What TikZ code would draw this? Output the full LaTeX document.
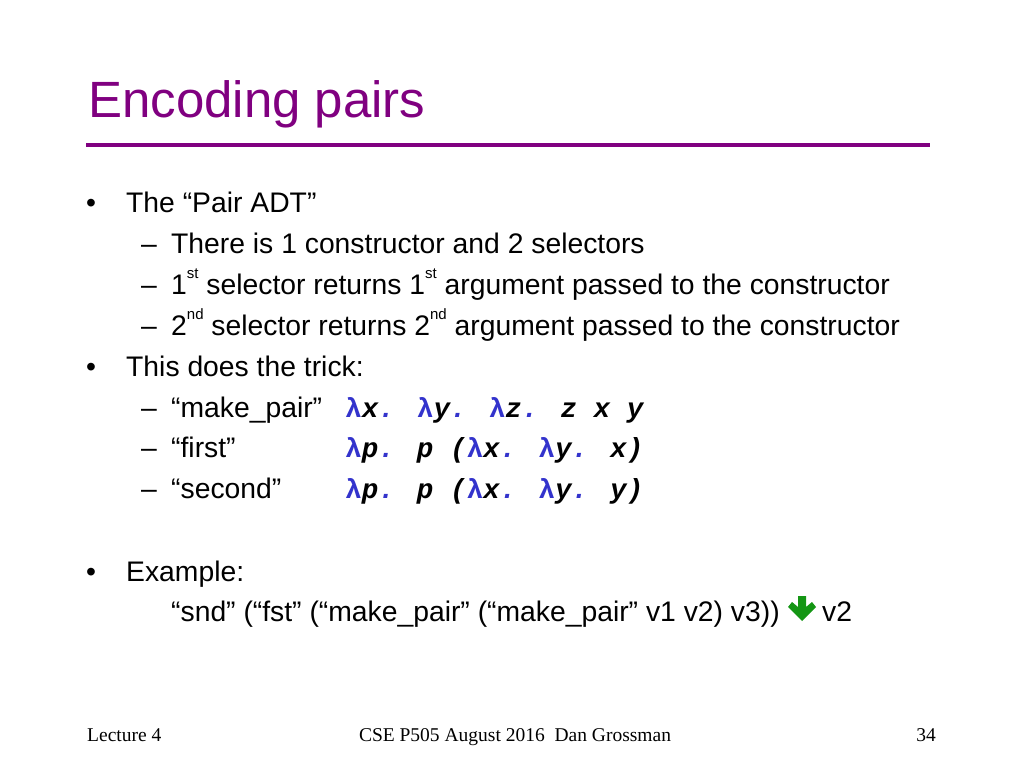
\documentclass[tikz,border=0pt]{standalone}
\usepackage{fontspec}
\setmainfont{Liberation Sans}
\newfontfamily\tnr{Liberation Serif}
\newfontfamily\cmono{Liberation Mono}
\definecolor{ttl}{RGB}{128,0,128}
\definecolor{lam}{RGB}{51,51,204}
\definecolor{arr}{RGB}{20,150,20}
\newcommand{\Lm}{\textcolor{lam}{\upshape\bfseries λ}}
\newcommand{\Dt}{\textcolor{lam}{.}}
\newcommand{\Sup}[1]{\raisebox{0.55em}{\fontsize{15}{15}\selectfont #1}}
\begin{document}
\begin{tikzpicture}[x=1pt,y=-1pt,
  body/.style={anchor=base west,inner sep=0pt,font=\fontsize{28.3}{30}\selectfont},
  code/.style={anchor=base west,inner sep=0pt,font=\fontsize{27.6}{30}\cmono\bfseries\itshape},
  foot/.style={inner sep=0pt,anchor=base,font=\fontsize{19.5}{20}\tnr}]
\useasboundingbox (0,0) rectangle (1024,768);
\node[anchor=base west,inner sep=0pt,text=ttl,font=\fontsize{51}{54}\selectfont] (title) at (88,117) {Encoding pairs};
\draw[ttl,line width=4pt] (86,145) -- (930,145);
\node[body] (b1) at (86,212) {•};
\node[body] (t1) at (126,212) {The “Pair ADT”};
\node[body] (d1) at (141,253) {–};
\node[body] (t2) at (171,253) {There is 1 constructor and 2 selectors};
\node[body] (d2) at (141,294) {–};
\node[body] (t3) at (171,294) {1\Sup{st} selector returns 1\Sup{st} argument passed to the constructor};
\node[body] (d3) at (141,335) {–};
\node[body] (t4) at (171,335) {2\Sup{nd} selector returns 2\Sup{nd} argument passed to the constructor};
\node[body] (b2) at (86,376) {•};
\node[body] (t5) at (126,376) {This does the trick:};
\node[body] (d4) at (141,417) {–};
\node[body] (t6) at (171,417) {“make\_pair”};
\node[code] (c1) at (345,417) {\Lm x\Dt{} \Lm y\Dt{} \Lm z\Dt{} z x y};
\node[body] (d5) at (141,457) {–};
\node[body] (t7) at (171,457) {“first”};
\node[code] (c2) at (345,457) {\Lm p\Dt{} p (\Lm x\Dt{} \Lm y\Dt{} x)};
\node[body] (d6) at (141,498) {–};
\node[body] (t8) at (171,498) {“second”};
\node[code] (c3) at (345,498) {\Lm p\Dt{} p (\Lm x\Dt{} \Lm y\Dt{} y)};
\node[body] (b3) at (86,581) {•};
\node[body] (t9) at (126,581) {Example:};
\node[body] (t10) at (171,621) {“snd” (“fst” (“make\_pair” (“make\_pair” v1 v2) v3))};
\fill[arr] (798,596) -- (806,596) -- (806,607) -- (812,602) -- (816,607) -- (802,621) -- (788,607) -- (792,602) -- (798,607) -- cycle;
\node[body] (t11) at (822,621) {v2};
\node[foot,anchor=base west] (f1) at (87,741) {Lecture 4};
\node[foot] (f2) at (515,741) {CSE P505 August 2016\ \ Dan Grossman};
\node[foot,anchor=base east] (f3) at (936,741) {34};
\end{tikzpicture}
\end{document}
